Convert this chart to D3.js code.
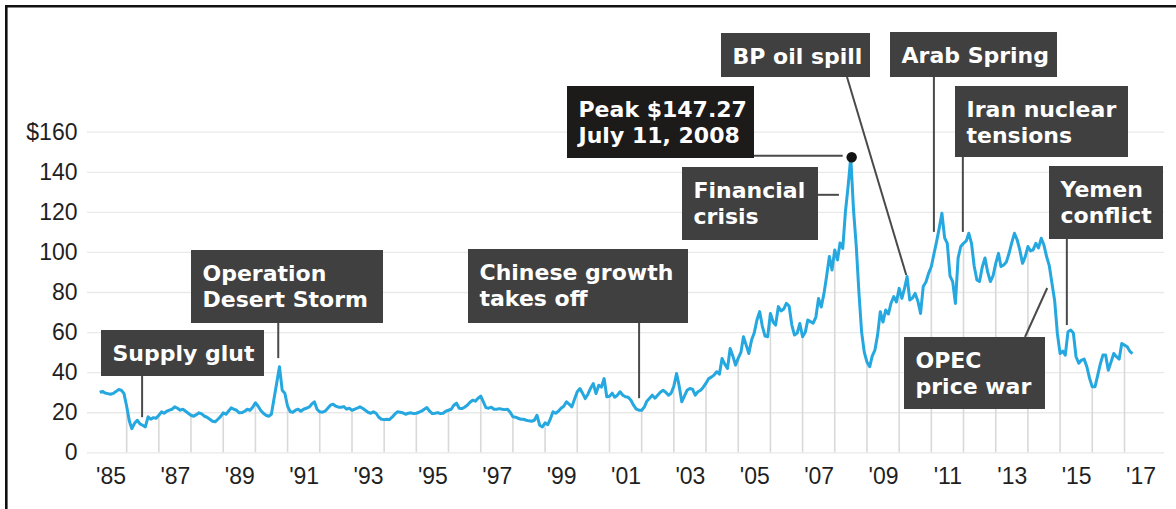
<!DOCTYPE html>
<html>
<head>
<meta charset="utf-8">
<script src="https://cdn.jsdelivr.net/npm/d3@7"></script>
<style>
  html, body { margin: 0; padding: 0; background: #fff; }
  svg { display: block; }
  .tick text { font-family: "Liberation Sans", Arial, Helvetica, sans-serif; font-size: 23px; fill: #1f1f1f; }
  .note text { font-family: "DejaVu Sans", sans-serif; font-weight: 700; font-size: 22px; fill: #fff; }
</style>
</head>
<body>
<svg id="chart" width="1176" height="509"></svg>
<script>
// Monthly crude oil price, US dollars per barrel. Series begins March 1985.
const seriesStart = [1985, 2];
const prices1985 = [30.0, 30.4, 29.6, 29.3, 29.0, 29.4, 30.3, 31.3, 31.0, 29.4];
const prices1986 = [23.0, 15.5, 11.8, 14.5, 16.0, 14.2, 13.5, 12.7, 17.7, 16.5, 17.3, 17.0];
const prices1987 = [18.5, 20.2, 19.5, 20.5, 21.0, 21.5, 22.7, 22.0, 21.0, 21.5, 20.5, 19.5];
const prices1988 = [18.5, 18.0, 18.8, 19.7, 19.2, 18.0, 17.5, 16.5, 15.5, 15.2, 16.5, 17.8];
const prices1989 = [19.7, 19.0, 20.5, 22.2, 21.5, 21.0, 19.7, 19.8, 20.5, 21.5, 21.0, 22.5];
const prices1990 = [24.7, 23.0, 21.0, 19.5, 18.5, 18.0, 19.0, 27.0, 35.0, 42.7, 31.0, 29.5];
const prices1991 = [23.0, 20.2, 20.0, 21.0, 21.5, 20.5, 21.5, 22.0, 22.5, 24.0, 25.2, 21.5];
const prices1992 = [20.2, 20.0, 20.5, 22.0, 23.5, 24.0, 23.0, 22.5, 22.5, 22.8, 21.5, 22.0];
const prices1993 = [21.0, 21.5, 22.0, 22.7, 22.0, 21.0, 20.0, 19.5, 20.2, 19.5, 17.5, 16.5];
const prices1994 = [16.3, 16.5, 16.3, 17.5, 19.0, 20.2, 20.0, 19.7, 19.0, 19.5, 19.7, 19.3];
const prices1995 = [19.5, 20.0, 20.5, 21.5, 22.3, 20.5, 19.3, 19.5, 19.8, 19.3, 19.5, 20.5];
const prices1996 = [21.0, 21.5, 23.5, 24.5, 22.0, 21.8, 22.5, 23.5, 25.0, 26.0, 25.5, 27.0];
const prices1997 = [28.0, 25.0, 22.3, 22.0, 22.5, 21.5, 21.5, 21.8, 21.5, 21.3, 21.5, 20.0];
const prices1998 = [17.7, 17.5, 17.0, 16.5, 16.5, 16.0, 15.7, 15.5, 16.0, 18.5, 13.5, 12.7];
const prices1999 = [14.7, 13.8, 16.5, 20.2, 19.5, 20.5, 22.0, 23.0, 25.2, 24.0, 22.7, 26.5];
const prices2000 = [30.2, 31.8, 29.5, 26.8, 29.0, 32.0, 34.3, 29.3, 33.5, 32.5, 36.8, 27.7];
const prices2001 = [28.0, 29.5, 27.5, 28.5, 30.2, 28.5, 27.7, 27.5, 26.0, 23.5, 21.5, 21.0];
const prices2002 = [21.0, 22.7, 25.5, 27.0, 28.5, 27.0, 28.5, 30.0, 31.0, 30.0, 28.5, 29.5];
const prices2003 = [33.0, 39.3, 33.5, 25.2, 28.0, 31.0, 31.8, 31.5, 28.5, 30.2, 31.0, 32.5];
const prices2004 = [34.5, 36.8, 37.5, 38.5, 40.2, 39.0, 46.8, 44.0, 41.8, 51.8, 48.0, 43.5];
const prices2005 = [47.0, 50.0, 57.7, 53.5, 49.3, 56.0, 59.5, 66.0, 70.2, 63.0, 58.0, 57.7];
const prices2006 = [69.3, 65.0, 63.5, 72.7, 70.5, 71.5, 74.3, 73.0, 63.5, 58.5, 59.5, 64.3];
const prices2007 = [57.7, 60.0, 66.0, 65.2, 64.5, 67.5, 76.8, 72.5, 79.3, 88.0, 97.7, 91.0];
const prices2008 = [101.0, 96.0, 104.5, 101.8, 120.0, 133.0, 147.27, 121.0, 103.0, 80.0, 60.0, 50.0];
const prices2009 = [45.0, 42.7, 48.0, 51.0, 58.5, 70.2, 65.0, 71.0, 69.0, 74.5, 77.7, 75.0];
const prices2010 = [81.8, 76.8, 81.5, 87.7, 76.0, 77.0, 79.3, 75.5, 69.3, 82.7, 85.0, 89.3];
const prices2011 = [92.7, 99.3, 105.0, 112.0, 119.3, 107.0, 104.3, 88.0, 85.0, 74.3, 97.0, 102.7];
const prices2012 = [104.3, 105.5, 109.3, 104.3, 93.0, 86.0, 85.2, 92.5, 97.0, 90.0, 85.2, 88.0];
const prices2013 = [94.3, 99.3, 92.7, 93.5, 95.0, 99.3, 104.5, 109.3, 106.0, 101.0, 94.3, 97.5];
const prices2014 = [102.7, 100.5, 101.0, 104.3, 102.0, 106.8, 103.5, 97.7, 93.0, 84.3, 75.5, 59.3];
const prices2015 = [49.3, 50.5, 48.5, 60.2, 61.0, 59.5, 47.7, 44.5, 46.0, 46.5, 42.7, 37.0];
const prices2016 = [32.7, 32.7, 38.0, 44.0, 48.5, 48.5, 41.0, 45.0, 49.3, 47.7, 46.5, 54.3];
const prices2017 = [53.5, 52.7, 50.5, 49.3];

const yTicks = [0, 20, 40, 60, 80, 100, 120, 140, 160];
const xLabelYears = [1985, 1987, 1989, 1991, 1993, 1995, 1997, 1999, 2001, 2003, 2005, 2007, 2009, 2011, 2013, 2015, 2017];

// Record high marked with a dot
const peakDate = "2008-07-11";
const peakValue = 147.27;

// Event callouts: text lines and the point (decimal year, price) each leader reaches
const noteLines = [
  ["Supply glut"],
  ["Operation", "Desert Storm"],
  ["Chinese growth", "takes off"],
  ["Financial", "crisis"],
  ["Peak $147.27", "July 11, 2008"],
  ["BP oil spill"],
  ["Arab Spring"],
  ["Iran nuclear", "tensions"],
  ["Yemen", "conflict"],
  ["OPEC", "price war"]
];
const noteTargets = [
  [1986.48, 17.5], [1990.71, 47], [2001.92, 27], [2008.13, 128.5], null,
  [2010.22, 88.5], [2011.08, 110], [2011.98, 110], [2015.21, 63.5], [2014.6, 82]
];

// ---- layout ----
const W = 1176, H = 509;
const plotLeft = 87, plotRight = 1164;
const boxes = [
  { x: 101, y: 330, w: 163, h: 46, from: "bottom" },
  { x: 191, y: 250, w: 192, h: 73, from: "bottom" },
  { x: 468, y: 249, w: 220, h: 74, from: "bottom" },
  { x: 682, y: 167, w: 136, h: 73, from: "right" },
  { x: 567, y: 86, w: 187, h: 72, dark: true },
  { x: 721, y: 33, w: 149, h: 44, from: "bottom", startX: 847 },
  { x: 890, y: 32, w: 167, h: 45, from: "bottom" },
  { x: 955, y: 86, w: 173, h: 71, from: "bottom" },
  { x: 1049, y: 166, w: 114, h: 73, from: "bottom" },
  { x: 904, y: 337, w: 141, h: 72, from: "top", startX: 1025 }
];

const svg = d3.select("#chart");

function fromDecimal(yr) {
  const y0 = Math.floor(yr);
  const a = new Date(y0, 0, 1), b = new Date(y0 + 1, 0, 1);
  return new Date(+a + (yr - y0) * (b - a));
}

const allPrices = [].concat(
  prices1985, prices1986, prices1987, prices1988, prices1989, prices1990, prices1991,
  prices1992, prices1993, prices1994, prices1995, prices1996, prices1997, prices1998,
  prices1999, prices2000, prices2001, prices2002, prices2003, prices2004, prices2005,
  prices2006, prices2007, prices2008, prices2009, prices2010, prices2011, prices2012,
  prices2013, prices2014, prices2015, prices2016, prices2017
);
const series = allPrices.map((v, i) => ({
  date: new Date(seriesStart[0], seriesStart[1] + i, 1),
  value: v
}));

const x = d3.scaleTime()
  .domain([new Date(1985, 0, 1), new Date(2017, 0, 1)])
  .range([94.5, 1124.5]);
const y = d3.scaleLinear().domain([0, 160]).range([452.3, 131.7]);

// horizontal grid + price labels
const yAxis = svg.append("g")
  .attr("transform", `translate(${plotLeft},0)`)
  .call(d3.axisLeft(y).tickValues(yTicks)
    .tickSize(-(plotRight - plotLeft)).tickPadding(9.5)
    .tickFormat(d => d === 160 ? "$160" : d));
yAxis.select(".domain").remove();
yAxis.selectAll(".tick line").attr("stroke", "#e9e9e9").attr("stroke-width", 1.3);

// yearly drop lines from the baseline up to the price
const yearStarts = series.filter(d => d.date.getMonth() === 0);
svg.append("g").selectAll("line").data(yearStarts).join("line")
  .attr("x1", d => x(d.date)).attr("x2", d => x(d.date))
  .attr("y1", y(0)).attr("y2", d => y(d.value))
  .attr("stroke", "#d9d9d9").attr("stroke-width", 1.6);

// year labels, centred on each labelled year
const xAxis = svg.append("g")
  .attr("transform", `translate(0,${y(0)})`)
  .call(d3.axisBottom(x)
    .tickValues(xLabelYears.map(yr => new Date(yr, 6, 2)))
    .tickSize(0).tickPadding(15)
    .tickFormat(d => "'" + String(d.getFullYear()).slice(2)));
xAxis.select(".domain").remove();

// price line
svg.append("path").datum(series)
  .attr("fill", "none")
  .attr("stroke", "#25a7e0")
  .attr("stroke-width", 3)
  .attr("stroke-linejoin", "round")
  .attr("d", d3.line().x(d => x(d.date)).y(d => y(d.value)));

// callouts
const notes = svg.append("g").attr("class", "note");
const peakX = x(new Date(peakDate)), peakY = y(peakValue);

noteLines.forEach((lines, i) => {
  const b = boxes[i];
  const t = noteTargets[i];
  let seg = null;
  if (t) {
    const tx = x(fromDecimal(t[0])), ty = y(t[1]);
    if (b.from === "bottom") seg = [b.startX != null ? b.startX : tx, b.y + b.h, tx, ty];
    else if (b.from === "top") seg = [b.startX, b.y, tx, ty];
    else if (b.from === "right") seg = [b.x + b.w, ty, tx, ty];
  } else {
    seg = [b.x + b.w, peakY - 1.5, peakX - 9, peakY - 1.5];
  }
  notes.append("line")
    .attr("x1", seg[0]).attr("y1", seg[1]).attr("x2", seg[2]).attr("y2", seg[3])
    .attr("stroke", "#4a4a4a").attr("stroke-width", 2);
  notes.append("rect")
    .attr("x", b.x).attr("y", b.y).attr("width", b.w).attr("height", b.h)
    .attr("fill", b.dark ? "#1d1a1a" : "#404040");
  lines.forEach((s, k) => {
    notes.append("text")
      .attr("x", b.x + 11.5)
      .attr("y", b.y + 30.5 + k * 26.5)
      .text(s);
  });
});

// peak marker
svg.append("circle")
  .attr("cx", peakX).attr("cy", peakY).attr("r", 5.2)
  .attr("fill", "#141414");

// frame
svg.append("path")
  .attr("d", `M6.3,${H} V6.3 H${W}`)
  .attr("fill", "none").attr("stroke", "#111").attr("stroke-width", 2.6);
</script>
</body>
</html>
